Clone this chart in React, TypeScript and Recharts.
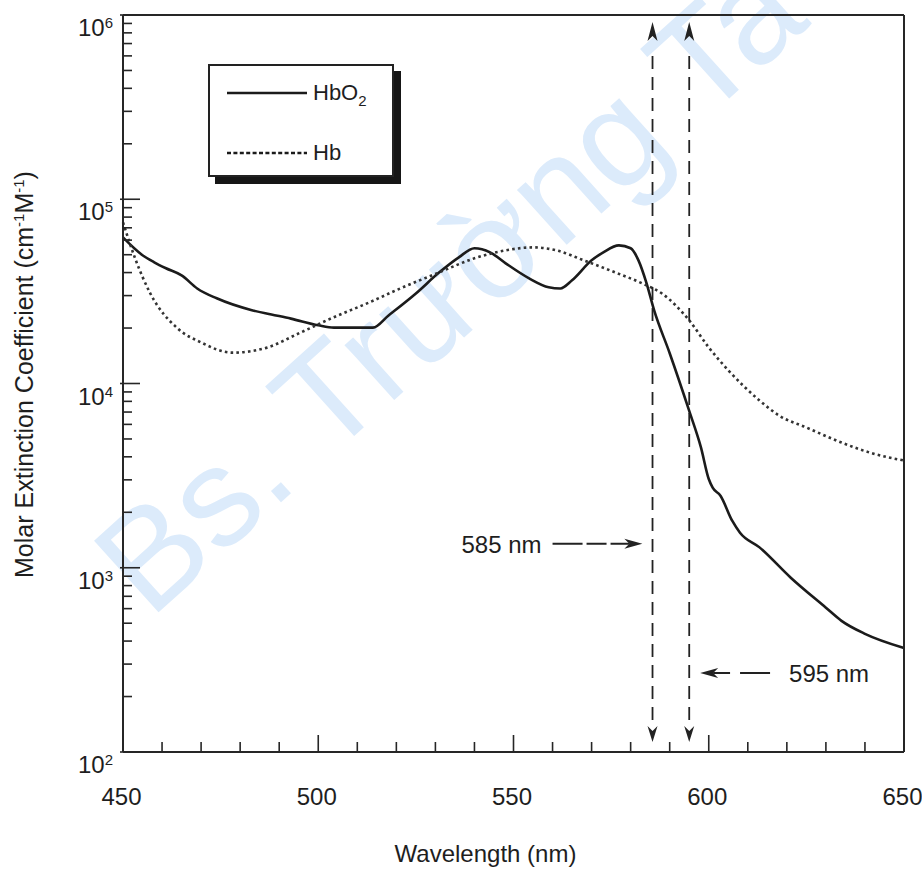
import React from 'react';
import { LineChart, Line, XAxis, YAxis, ReferenceLine, Legend } from 'recharts';

// ---- data ----
const hbo2Wavelengths = [450, 455, 458, 461, 465, 469, 474, 483, 488, 493, 500, 504, 514, 518, 525, 531, 536, 540, 544, 548, 554, 559, 562, 565, 570, 573, 577, 580, 582, 584, 586, 590, 595, 598, 600, 601, 603, 606, 608, 613, 621, 630, 634, 640, 650];
const hbo2Values = [62100, 49700, 45500, 42200, 38600, 32800, 29000, 25000, 23700, 22500, 20700, 20100, 20100, 23400, 30800, 40100, 48400, 54200, 51500, 44900, 37200, 33300, 32800, 36300, 46600, 51500, 56200, 54200, 46600, 35400, 25000, 14600, 7100, 4500, 3030, 2720, 2460, 1800, 1550, 1290, 883, 607, 515, 438, 367];

const hbWavelengths = [450, 453, 457, 464, 470, 478, 487, 495, 504, 513, 521, 531, 540, 548, 555, 561, 568, 576, 583, 588, 595, 600, 605, 613, 618, 625, 634, 642, 650];
const hbValues = [75000, 48400, 30800, 19900, 16700, 14700, 15700, 18700, 22900, 27500, 32800, 40100, 47800, 52800, 54800, 52800, 46600, 40100, 34900, 30800, 22000, 15700, 11800, 8090, 6700, 5770, 4780, 4170, 3820];

const seriesNames = ['HbO2', 'Hb'];

const xTicks = [450, 460, 470, 480, 490, 500, 510, 520, 530, 540, 550, 560, 570, 580, 590, 600, 610, 620, 630, 640, 650];
const xLabelTicks = [450, 500, 550, 600, 650];

const yTicks = [
  100, 200, 300, 400, 500, 600, 700, 800, 900,
  1000, 2000, 3000, 4000, 5000, 6000, 7000, 8000, 9000,
  10000, 20000, 30000, 40000, 50000, 60000, 70000, 80000, 90000,
  100000, 200000, 300000, 400000, 500000, 600000, 700000, 800000, 900000,
  1000000,
];
const yDecadeTicks = [100, 1000, 10000, 100000, 1000000];
const yDecadeExponents = ['2', '3', '4', '5', '6'];

// vertical double-headed dashed markers
const markerWavelengths = [585.6, 595];
// horizontal pointer arrows: start nm, tip nm, level
const pointerLabels = ['585 nm', '595 nm'];
const pointerStart = [560, 615.7];
const pointerTip = [583, 597.8];
const pointerLevel = [1350, 268];

const hbo2Data = hbo2Wavelengths.map((nm, i) => ({ nm, value: hbo2Values[i] }));
const hbData = hbWavelengths.map((nm, i) => ({ nm, value: hbValues[i] }));

const FONT = '"Liberation Sans", Arial, Helvetica, sans-serif';
const INK = '#262626';
const TXT = '#1e1e1e';

const seriesStyles = [
  { stroke: '#1b1b1b', dash: undefined as string | undefined, legendDash: undefined as string | undefined },
  { stroke: '#333333', dash: '2.6 3.2', legendDash: '4 2.4' },
];

// ---- ticks ----
const BottomTick = (props: any) => {
  const { x, y, payload } = props;
  const v = payload.value;
  const major = xLabelTicks.includes(v);
  return (
    <g>
      <line x1={x} x2={x} y1={y} y2={y - (major ? 17 : 10)} stroke={INK} strokeWidth={1.6} />
      {major && (
        <text x={x - 1.5} y={y + 53} textAnchor="middle" fontSize={24} fontFamily={FONT} fill={TXT}>
          {v}
        </text>
      )}
    </g>
  );
};

const TopTick = (props: any) => {
  const { x, y, payload } = props;
  const major = xLabelTicks.includes(payload.value);
  return <line x1={x} x2={x} y1={y} y2={y + (major ? 18 : 11)} stroke={INK} strokeWidth={1.6} />;
};

const LeftTick = (props: any) => {
  const { x, y, payload } = props;
  const idx = yDecadeTicks.indexOf(payload.value);
  const major = idx >= 0;
  return (
    <g>
      <line x1={major ? x - 3 : x} x2={x + (major ? 17 : 9)} y1={y} y2={y} stroke={INK} strokeWidth={1.6} />
      {major && (
        <text x={x - 10} y={y + 21} textAnchor="end" fontSize={24} fontFamily={FONT} fill={TXT}>
          10
          <tspan fontSize={15} dy={-8}>
            {yDecadeExponents[idx]}
          </tspan>
        </text>
      )}
    </g>
  );
};

const RightTick = (props: any) => {
  const { x, y, payload } = props;
  const major = yDecadeTicks.includes(payload.value);
  return <line x1={x} x2={x - (major ? 16 : 10)} y1={y} y2={y} stroke={INK} strokeWidth={1.6} />;
};

// ---- annotations ----
const VArrow = (p: any) => {
  const x = p.x1;
  const top = Math.min(p.y1, p.y2);
  const bot = Math.max(p.y1, p.y2);
  const tTip = top + 7;
  const bTip = bot - 10;
  return (
    <g>
      <line x1={x} x2={x} y1={tTip + 34} y2={bTip - 20} stroke="#222" strokeWidth={1.8} strokeDasharray="13 8" />
      <path d={`M${x},${tTip} L${x - 5},${tTip + 19} L${x},${tTip + 14} L${x + 5},${tTip + 19} Z`} fill="#222" />
      <path d={`M${x},${bTip} L${x - 5},${bTip - 16} L${x},${bTip - 11} L${x + 5},${bTip - 16} Z`} fill="#222" />
    </g>
  );
};

const makePointer = (label: string, dash: string, labelSide: 'left' | 'right') => (p: any) => {
  const { x1, y1, x2 } = p;
  const dir = x2 > x1 ? 1 : -1;
  const headLen = 18;
  const baseX = x2 - dir * headLen;
  const notchX = x2 - dir * (headLen - 5);
  return (
    <g>
      <line x1={x1} x2={notchX} y1={y1} y2={y1} stroke="#222" strokeWidth={2} strokeDasharray={dash} />
      <path d={`M${x2},${y1} L${baseX},${y1 - 5} L${notchX},${y1} L${baseX},${y1 + 5} Z`} fill="#222" />
      <text
        x={labelSide === 'left' ? x1 - 11 : x1 + 19}
        y={y1 + 9}
        textAnchor={labelSide === 'left' ? 'end' : 'start'}
        fontSize={24}
        fontFamily={FONT}
        fill={TXT}
      >
        {label}
      </text>
    </g>
  );
};

const pointerShapes = [
  makePointer(pointerLabels[0], '30 4 20 4 200', 'left'),
  makePointer(pointerLabels[1], '30 10 200', 'right'),
];

// ---- legend ----
const renderName = (name: string) => {
  const m = name.match(/^(.*?)(\d+)$/);
  if (!m) return name;
  return (
    <>
      {m[1]}
      <tspan fontSize={15} dy={6}>
        {m[2]}
      </tspan>
    </>
  );
};

const LegendBox = (props: any) => {
  const payload = [...(props.payload || [])].sort(
    (a: any, b: any) => seriesNames.indexOf(String(a.value)) - seriesNames.indexOf(String(b.value))
  );
  const rowY = [29, 89];
  return (
    <div style={{ position: 'relative', width: 186, height: 113 }}>
      <div style={{ position: 'absolute', left: 7, top: 7, width: 186, height: 113, background: '#161616' }} />
      <svg
        width={186}
        height={113}
        style={{ position: 'absolute', left: 0, top: 0, background: '#fff', display: 'block' }}
      >
        <rect x={1} y={1} width={184} height={111} fill="#fff" stroke="#222" strokeWidth={2} />
        {payload.map((entry: any, i: number) => {
          const si = seriesNames.indexOf(String(entry.value));
          const st = seriesStyles[si >= 0 ? si : i] || seriesStyles[0];
          const yy = rowY[i] ?? 29 + 60 * i;
          return (
            <g key={i}>
              <line x1={19} x2={99} y1={yy} y2={yy} stroke="#1b1b1b" strokeWidth={2.6} strokeDasharray={st.legendDash} />
              <text x={105} y={yy + 7} fontSize={22} fontFamily={FONT} fill={TXT}>
                {renderName(String(entry.value))}
              </text>
            </g>
          );
        })}
      </svg>
    </div>
  );
};

const XTitle = (p: any) => {
  const vb = p.viewBox || {};
  return (
    <text x={vb.x + vb.width / 2 - 28} y={vb.y + 110} textAnchor="middle" fontSize={24} fontFamily={FONT} fill={TXT}>
      Wavelength (nm)
    </text>
  );
};

const YTitle = (p: any) => {
  const vb = p.viewBox || {};
  const cx = vb.x + vb.width - 90;
  const cy = vb.y + vb.height / 2 - 9;
  return (
    <text
      x={cx}
      y={cy}
      transform={`rotate(-90, ${cx}, ${cy})`}
      textAnchor="middle"
      fontSize={25}
      fontFamily={FONT}
      fill={TXT}
    >
      Molar Extinction Coefficient (cm
      <tspan fontSize={15} dy={-9}>-1</tspan>
      <tspan dy={9}>M</tspan>
      <tspan fontSize={15} dy={-9}>-1</tspan>
      <tspan dy={9}>)</tspan>
    </text>
  );
};

export default function App() {
  return (
    <div style={{ position: 'relative', width: 922, height: 869, background: '#fff', overflow: 'hidden' }}>
      <style>{'body{margin:0;}'}</style>
      <svg width={922} height={869} style={{ position: 'absolute', left: 0, top: 0 }}>
        <text
          x={150}
          y={620}
          transform="rotate(-42, 150, 620)"
          fontSize={140}
          fontFamily={FONT}
          fill="#dcebfb"
        >
          Bs. Trường Ta
        </text>
      </svg>
      <div style={{ position: 'absolute', left: 0, top: 0 }}>
        <LineChart width={922} height={869} margin={{ top: 14, right: 17, bottom: 116, left: 122 }}>
          <XAxis
            xAxisId={0}
            dataKey="nm"
            type="number"
            domain={[450, 650]}
            ticks={xTicks}
            interval={0}
            height={1}
            tickSize={0}
            tickMargin={0}
            tickLine={false}
            axisLine={{ stroke: INK, strokeWidth: 2 }}
            tick={BottomTick}
            label={{ content: XTitle }}
          />
          <XAxis
            xAxisId="top"
            orientation="top"
            dataKey="nm"
            type="number"
            domain={[450, 650]}
            ticks={xTicks}
            interval={0}
            height={1}
            tickSize={0}
            tickMargin={0}
            tickLine={false}
            axisLine={{ stroke: INK, strokeWidth: 2 }}
            tick={TopTick}
          />
          <YAxis
            yAxisId={0}
            type="number"
            scale="log"
            domain={[100, 1000000]}
            ticks={yTicks}
            interval={0}
            width={1}
            tickSize={0}
            tickMargin={0}
            tickLine={false}
            axisLine={{ stroke: INK, strokeWidth: 2 }}
            tick={LeftTick}
            label={{ content: YTitle }}
          />
          <YAxis
            yAxisId="right"
            orientation="right"
            type="number"
            scale="log"
            domain={[100, 1000000]}
            ticks={yTicks}
            interval={0}
            width={1}
            tickSize={0}
            tickMargin={0}
            tickLine={false}
            axisLine={{ stroke: INK, strokeWidth: 2 }}
            tick={RightTick}
          />
          <Legend
            layout="horizontal"
            verticalAlign="middle"
            align="center"
            itemSorter={null as any}
            content={LegendBox}
            wrapperStyle={{ left: 208, top: 64, width: 193, height: 120 }}
          />
          <Line
            data={hbo2Data}
            dataKey="value"
            name={seriesNames[0]}
            type="monotone"
            stroke={seriesStyles[0].stroke}
            strokeWidth={2.6}
            dot={false}
            activeDot={false}
            isAnimationActive={false}
          />
          <Line
            data={hbData}
            dataKey="value"
            name={seriesNames[1]}
            type="monotone"
            stroke={seriesStyles[1].stroke}
            strokeWidth={2.6}
            strokeDasharray={seriesStyles[1].dash}
            dot={false}
            activeDot={false}
            isAnimationActive={false}
          />
          {markerWavelengths.map((w) => (
            <ReferenceLine key={`m${w}`} x={w} stroke="#222" shape={VArrow} ifOverflow="visible" />
          ))}
          {pointerLabels.map((lab, i) => (
            <ReferenceLine
              key={lab}
              segment={[
                { x: pointerStart[i], y: pointerLevel[i] },
                { x: pointerTip[i], y: pointerLevel[i] },
              ]}
              stroke="#222"
              shape={pointerShapes[i]}
              ifOverflow="visible"
            />
          ))}
        </LineChart>
      </div>
    </div>
  );
}
